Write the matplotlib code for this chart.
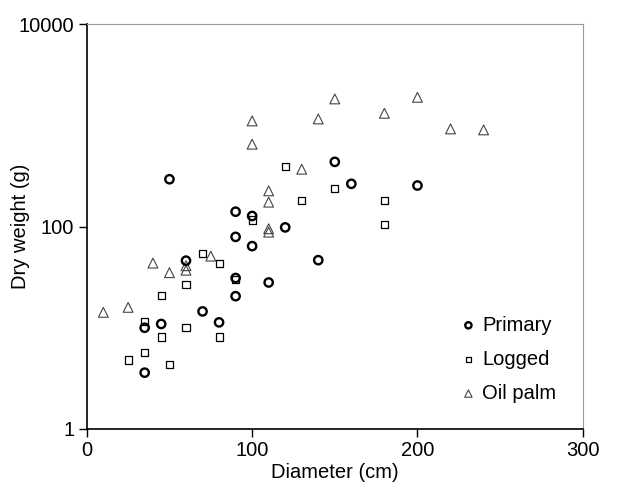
import numpy as np
import matplotlib.pyplot as plt

plt.rcParams['font.family'] = ['Liberation Sans', 'DejaVu Sans']

# Primary forest
primary_x = [50, 35, 35, 45, 60, 70, 80, 90, 90, 90, 90, 100, 100, 110, 120, 140, 150, 160, 200]
primary_y = [293, 10, 3.6, 10.9, 46, 14.5, 11.3, 140, 79, 31, 20.5, 127, 64, 28, 98, 46.5, 435, 264, 254]

# Logged forest
logged_x = [120, 150, 130, 180, 180, 100, 70, 80, 60, 45, 35, 60, 45, 80, 35, 25, 50, 90]
logged_y = [391, 237, 179, 179, 105, 116, 54, 43, 27, 21, 11.6, 10, 8.1, 8.1, 5.7, 4.8, 4.3, 30]

# Oil palm
palm_x = [10, 25, 40, 50, 60, 60, 75, 100, 100, 110, 110, 110, 110, 130, 140, 150, 180, 200, 220, 240]
palm_y = [14.2, 15.9, 43.5, 35, 41, 37, 51, 1104, 650, 225, 174, 95, 88, 368, 1155, 1820, 1313, 1888, 920, 900]

fig = plt.figure(figsize=(6.2, 4.9), dpi=100)
ax = fig.add_axes([0.140, 0.1245, 0.800, 0.8265])

ax.scatter(primary_x, primary_y, marker='o', s=36, facecolors='none', edgecolors='black',
           linewidths=1.7, label='Primary', zorder=3)
ax.scatter(logged_x, logged_y, marker='s', s=26, facecolors='none', edgecolors='black',
           linewidths=0.9, label='Logged', zorder=2)
ax.scatter(palm_x, palm_y, marker='^', s=50, facecolors='none', edgecolors='#444444',
           linewidths=0.8, label='Oil palm', zorder=2)

ax.set_yscale('log')
ax.set_xlim(0, 300)
ax.set_ylim(1, 10000)
ax.set_xticks([0, 100, 200, 300])
ax.set_yticks([1, 100, 10000])
ax.set_yticklabels(['1', '100', '10000'])
ax.minorticks_off()
ax.tick_params(direction='out', length=6, labelsize=14.5, width=1, pad=3)

for s in ['top', 'right']:
    ax.spines[s].set_color('#999999')
for s in ['left', 'bottom']:
    ax.spines[s].set_color('black')
    ax.spines[s].set_linewidth(1.2)

ax.set_xlabel('Diameter (cm)', fontsize=14.5, labelpad=2)
ax.set_ylabel('Dry weight (g)', fontsize=14.5)
ax.yaxis.set_label_coords(-0.115, 0.5)

ax.legend(loc='lower right', frameon=False, fontsize=14.5, handletextpad=0.0,
          borderaxespad=0.9, labelspacing=0.75, handlelength=1.4, markerscale=0.75)

plt.savefig('out.png', dpi=100)
